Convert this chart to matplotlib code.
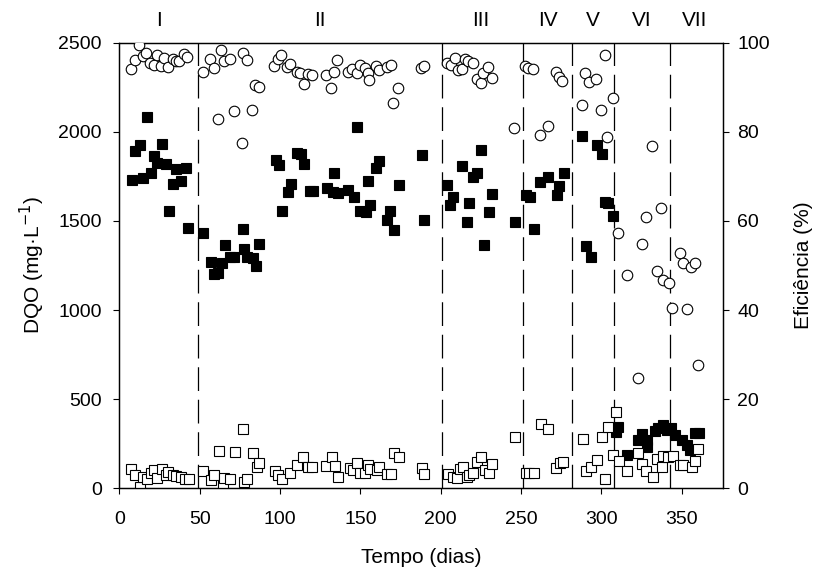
import matplotlib
matplotlib.use("Agg")
import matplotlib.pyplot as plt

plt.rcParams['font.family'] = ['Liberation Sans', 'DejaVu Sans']

# DQO afluente (filled squares)
inlet_days = [7.7, 9.8, 12.9, 14.6, 17, 19.5, 21.8, 23.6, 26.8, 29.1, 30.7, 33.6, 35.3, 38.2, 41.5, 42.6,
              51.9, 56.9, 58.9, 61.6, 63.7, 65.8, 68.9, 71.4, 76.8, 77.6, 79.3, 83, 84.9, 86.9,
              97.5, 99.4, 101, 105.2, 106.7, 110.8, 113.3, 115.2, 118.7, 120.7, 129, 133.2, 133.8, 136.3,
              142.5, 146, 148.2, 149.8, 153.5, 155, 156, 159.6, 161.8, 166.4, 168.5, 171, 174, 188.2, 189.8,
              204.1, 205.9, 207.9, 213.1, 216.2, 217.8, 219.9, 222.8, 225.1, 227, 230.1, 232, 246.2,
              252.8, 255.6, 258.3, 261.8, 267, 272.2, 273.8, 276.7,
              288.1, 290.2, 293.4, 297.1, 300.2, 302.3, 304.3, 307.4,
              309.1, 310.5, 316.1, 323, 325.1, 328.2, 328.2, 333.4, 335.4, 338.5, 340.7, 343.1, 345.8,
              350, 353.1, 355.2, 358.3, 361]
inlet_dqo = [1730, 1892, 1926, 1739, 2085, 1767, 1864, 1827, 1930, 1819, 1557, 1707, 1790, 1726, 1795, 1459,
             1431, 1271, 1202, 1206, 1262, 1365, 1296, 1296, 1453, 1341, 1296, 1290, 1247, 1371,
             1842, 1814, 1557, 1664, 1707, 1879, 1874, 1819, 1670, 1670, 1683, 1664, 1767, 1655,
             1673, 1636, 2025, 1557, 1548, 1724, 1589, 1795, 1838, 1505, 1557, 1449, 1702, 1870, 1505,
             1702, 1589, 1636, 1810, 1492, 1599, 1748, 1767, 1898, 1365, 1552, 1651, 1492,
             1645, 1633, 1455, 1720, 1748, 1646, 1696, 1767,
             1977, 1361, 1296, 1926, 1874, 1608, 1602, 1528,
             318, 346, 187, 271, 305, 271, 234, 323, 336, 355, 327, 336, 299,
             273, 243, 215, 309, 309]

# DQO efluente (open squares)
effluent_days = [7.3, 9.8, 12.9, 14.6, 17, 19.5, 21.8, 23.6, 26.8, 29.1, 30.5, 33.6, 35.3, 38.2, 40.9, 43.4,
                 51.9, 56.9, 58.9, 62.2, 64.3, 65.2, 68.9, 72, 76.8, 77.6, 79.7, 83, 85.5, 87.1,
                 96.9, 99, 101, 106.2, 110.8, 114.5, 117.6, 119.7, 128.6, 132.2, 134.2, 136.3,
                 143.6, 145.6, 148.1, 149.8, 152.9, 155, 156, 160.2, 161.8, 166.8, 169.1, 171.2, 174.1,
                 188.2, 189.8,
                 204.7, 207.9, 210, 212, 213.7, 216.2, 217.8, 219.9, 222.4, 225.1, 227.6, 230.1, 231.7, 246.3,
                 253.1, 255.2, 258.1, 262.2, 267, 271.8, 274.2, 275.9,
                 288.4, 290.4, 293.3, 297.1, 300.2, 302.3, 304.3, 307.4, 309.1,
                 311.1, 316.1, 323, 325.1, 327.6, 332, 334.5, 337.6, 338.6, 341.7, 344.4, 349, 350.6,
                 356.2, 358.3, 360.3]
effluent_dqo = [106, 75, 9, 62, 50, 88, 103, 56, 106, 75, 93, 75, 69, 65, 52, 50,
                99, 47, 75, 209, 19, 56, 52, 202, 333, 37, 52, 200, 118, 140,
                99, 75, 52, 86, 131, 175, 118, 121, 125, 174, 125, 62,
                112, 103, 144, 84, 88, 131, 106, 103, 118, 80, 80, 200, 174,
                112, 80,
                80, 65, 56, 106, 118, 62, 75, 88, 149, 174, 103, 88, 136, 286,
                88, 88, 88, 359, 331, 112, 140, 148,
                277, 99, 118, 159, 286, 50, 346, 187, 426,
                153, 99, 200, 136, 99, 65, 163, 118, 181, 174, 181, 131, 131,
                118, 155, 219]

# Eficiencia (open circles)
eff_days = [7.3, 9.8, 12.4, 14.6, 16.6, 19.1, 21.6, 23.5, 26, 28, 30.5, 33.2, 35.3, 37.3, 40.3, 42.3,
            51.9, 56.4, 58.7, 61.6, 63.5, 65.2, 68.9, 71.4, 76.6, 76.8, 79.7, 82.6, 84.5, 86.9,
            96.5, 98.5, 100.6, 104.2, 106.5, 110.3, 112.5, 114.7, 117.6, 119.7, 128.6, 131.5, 133.6, 135.7,
            142.5, 144.6, 147.7, 149.8, 152.9, 155, 155.6, 159.7, 161.6, 166.8, 169.1, 170.5, 173.6,
            187.8, 189.8,
            203.7, 206.2, 208.9, 211, 213.1, 215.1, 217.2, 219.9, 222.8, 224.9, 226.1, 229.6, 231.7, 245.7,
            252.5, 254.5, 257.6, 261.8, 267, 271.8, 273.8, 275.7,
            287.8, 289.8, 292.5, 296.7, 299.6, 302.3, 303.7, 307,
            310.5, 315.8, 323, 325.1, 327.8, 331.7, 334.8, 336.9, 338.2, 341.9,
            343.8, 348.9, 350.6, 353.1, 355.6, 358.3, 360]
eff_pct = [94.0, 96.1, 99.5, 97.0, 97.8, 95.5, 95.1, 97.2, 94.8, 96.5, 94.5, 96.3, 96.0, 96.0, 97.5, 96.7,
           93.4, 96.3, 94.3, 82.9, 98.4, 96.0, 96.3, 84.7, 77.4, 97.6, 96.1, 84.9, 90.5, 90.0,
           94.8, 96.3, 97.2, 94.6, 95.3, 93.5, 93.1, 90.7, 92.9, 92.8, 92.8, 89.9, 93.4, 96.1,
           93.5, 94.0, 93.1, 95.0, 94.3, 93.1, 91.6, 94.8, 93.9, 94.6, 95.0, 86.4, 89.8,
           94.3, 94.8,
           95.5, 95.0, 96.5, 93.9, 94.0, 96.3, 96.0, 95.4, 91.8, 91.0, 93.3, 94.6, 92.0, 80.9,
           94.8, 94.4, 94.0, 79.3, 81.3, 93.5, 92.2, 91.5,
           86.0, 93.1, 91.1, 91.9, 84.9, 97.2, 78.8, 87.7,
           57.2, 47.9, 24.8, 54.8, 60.8, 76.8, 48.8, 62.8, 46.7, 46.1,
           40.4, 52.7, 50.5, 40.2, 49.7, 50.5, 27.7]

phase_bounds = [49, 201, 251, 282, 308, 343]
phase_labels = ['I', 'II', 'III', 'IV', 'V', 'VI', 'VII']
phase_label_days = [25, 125, 225, 267, 295, 325, 358]

fig = plt.figure(figsize=(8.18, 5.71), dpi=100)
ax = fig.add_axes([0.1458, 0.1448, 0.7377, 0.7804])
ax2 = ax.twinx()

for b in phase_bounds:
    ax.axvline(b, color='black', lw=0.9, dashes=(19, 7), zorder=1)

ax.plot(inlet_days, inlet_dqo, ls='none', marker='s', ms=7.6, mfc='black', mec='black', mew=0.8, zorder=3)
ax.plot(effluent_days, effluent_dqo, ls='none', marker='s', ms=7.6, mfc='white', mec='black', mew=0.8, zorder=4)
ax2.plot(eff_days, eff_pct, ls='none', marker='o', ms=7.6, mfc='white', mec='black', mew=0.8, zorder=3)

ax.set_xlim(0, 375.5)
ax.set_ylim(0, 2500)
ax2.set_ylim(0, 100)
ax.set_xticks(range(0, 351, 50))
ax.set_yticks(range(0, 2501, 500))
ax2.set_yticks(range(0, 101, 20))

for a in (ax, ax2):
    a.tick_params(direction='out', length=4.5, width=0.8, labelsize=14)
    for s in a.spines.values():
        s.set_linewidth(0.9)
ax.tick_params(axis='x', pad=12)
ax.tick_params(axis='y', pad=8)
ax2.tick_params(axis='y', pad=6)

ax.set_xlabel('Tempo (dias)', fontsize=15, labelpad=14)
ax.set_ylabel('DQO (mg·L$^{-1}$)', fontsize=15, labelpad=8.5)
ax2.set_ylabel('Eficiência (%)', fontsize=15, labelpad=17)

for lab, d in zip(phase_labels, phase_label_days):
    ax.text(d, 1.05, lab, transform=ax.get_xaxis_transform(), ha='center', va='center', fontsize=15)

fig.savefig('out.png', dpi=100)
